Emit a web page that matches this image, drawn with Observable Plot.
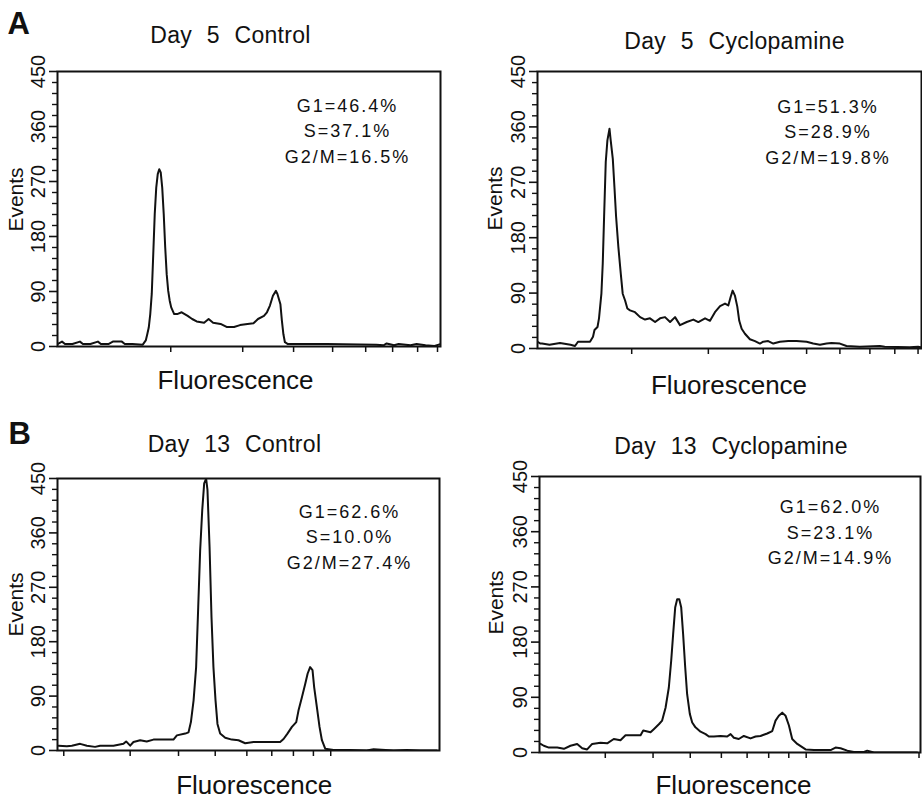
<!DOCTYPE html>
<html>
<head>
<meta charset="utf-8">
<script src="https://cdn.jsdelivr.net/npm/d3@7"></script>
<script src="https://cdn.jsdelivr.net/npm/@observablehq/plot@0.6"></script>
<style>
  body { margin: 0; background: #fff; }
  #fig { position: relative; width: 922px; height: 799px; overflow: hidden; background: #fff; }
  .panel { position: absolute; }
</style>
</head>
<body>
<div id="fig"></div>
<script>
// ---------- data ([channel, events]) ----------
const day5Control = [
  [0,4],[3,8],[5,4],[10,4],[15,8],[17,4],[22,4],[27,8],[29,4],[34,4],[37,8],[43,8],[45,4],[50,4],
  [57,3],[59,10],[60,20],[61,31],[62,53],[63,86],[64,151],[65,217],[66,260],[67,282],[68,290],[69,285],
  [70,260],[71,217],[72,162],[73,118],[74,91],[75,75],[76,64],[78,53],[80,53],[83,56],[87,50],[90,45],
  [93,41],[98,39],[101,45],[104,39],[109,37],[113,32],[118,32],[122,35],[127,37],[131,38],[134,45],
  [138,50],[140,56],[142,67],[144,83],[146,91],[147,86],[149,69],[150,42],[151,20],[152,7],[154,4],
  [180,4],[213,3],[218,2],[220,5],[225,2],[228,4],[236,2],[240,4],[246,2],[252,1],[256,4]
];
const day5Cyclopamine = [
  [0,11],[2,8],[3,8],[8,6],[15,9],[22,6],[25,4],[27,11],[35,11],[37,19],[38,30],[40,35],[41,49],
  [42.6,89],[43.5,138],[44.4,214],[45.5,303],[46.6,338],[48,357],[48.8,338],[50.2,308],[51.3,262],
  [52.4,214],[53.9,165],[55.5,122],[56.8,89],[58.4,78],[59.9,65],[61.7,62],[65,59],[68.4,51],[71.7,47],
  [75,49],[78.4,43],[81.7,49],[85,51],[88.4,43],[91.7,51],[95,38],[99.5,43],[103.9,47],[107.2,43],
  [111.7,49],[115,45],[118.3,59],[121.7,69],[125,73],[127.2,70],[128.8,84],[130.1,94],[131.6,86],
  [133.2,68],[134.5,45],[136.1,32],[138.3,24],[141.6,15],[145,12],[148.3,8],[150.5,11],[153.8,12],
  [157.2,8],[161.6,11],[167.2,12],[172.7,12],[179.4,11],[183.8,8],[188.3,6],[192.7,8],[196,9],
  [201.6,8],[206,4],[214.9,3],[228.2,4],[231.5,3],[248.2,2],[253.7,3],[256,2]
];
const day13Control = [
  [0.7,8],[6.3,7],[9.6,8],[15.2,11],[19.7,8],[25.2,6],[28.6,8],[37.5,8],[44.2,11],[46,15],[48.7,8],
  [50.9,14],[55.4,17],[59.8,15],[64.3,18],[71,18],[77.7,18],[80,25],[85.6,28],[87.8,30],[89.4,47],
  [91.2,83],[92.9,138],[94.3,237],[95.6,331],[97,398],[98.3,442],[99.6,450],[100.5,431],[101.9,337],
  [103.2,221],[104.5,138],[105.9,83],[107.2,44],[109,28],[112.4,21],[116.8,18],[121.3,17],[125.8,12],
  [131.4,14],[140.3,14],[149.2,14],[151.5,19],[154.1,28],[157.1,39],[160,47],[161.5,66],[163.8,88],
  [166,110],[167.6,127],[169.3,138],[170.9,133],[172,105],[173.8,72],[175.6,39],[177.2,17],[179.4,3],
  [185,1],[196.1,1],[207.3,0],[211.8,2],[225.2,0],[234.1,1],[243.1,0],[254.2,0]
];
const day13Cyclopamine = [
  [0.7,14],[2.9,11],[6.3,8],[11.9,8],[16.4,6],[20.8,11],[25.3,14],[28.7,7],[32,5],[35.4,14],[41,16],
  [45.5,15],[49.9,22],[54.4,20],[57.8,28],[63.4,28],[67.9,28],[69.7,36],[74.6,33],[76.8,38],[80.2,46],
  [82.4,52],[84.7,73],[86.9,106],[88.5,150],[89.8,193],[91.2,237],[92.5,250],[93.9,250],[95.2,237],
  [96.5,193],[97.9,139],[99.2,95],[101,63],[102.6,49],[104.8,41],[108.2,34],[111.6,30],[113.8,26],
  [117.2,26],[121.6,27],[126.1,26],[128.4,30],[130.6,24],[133.9,22],[137.3,27],[141.8,23],[145.2,26],
  [148.5,27],[153,31],[156.4,35],[158.6,52],[160.8,60],[163.1,65],[165.3,60],[167.6,44],[169.8,22],
  [173.2,14],[178.8,5],[184.4,4],[191.1,4],[195.6,4],[198.9,8],[202.3,7],[206.8,3],[211.2,1],[218,1],
  [220.2,3],[224.7,0],[238.1,0],[244.8,0],[253.8,0]
];

const panelTitles = ["Day 5 Control", "Day 5 Cyclopamine", "Day 13 Control", "Day 13 Cyclopamine"];
const panelLetters = ["A", null, "B", null];
const statsDay5Control = ["G1=46.4%", "S=37.1%", "G2/M=16.5%"];
const statsDay5Cyclopamine = ["G1=51.3%", "S=28.9%", "G2/M=19.8%"];
const statsDay13Control = ["G1=62.6%", "S=10.0%", "G2/M=27.4%"];
const statsDay13Cyclopamine = ["G1=62.0%", "S=23.1%", "G2/M=14.9%"];

const yMajorTicks = [0, 90, 180, 270, 360, 450];
const yMinorTicks = [18, 36, 54, 72, 108, 126, 144, 162, 198, 216, 234, 252, 288, 306, 324, 342, 378, 396, 414, 432];
const xTicksA = [75.7, 123.8, 157.8, 183.9, 206, 224, 240.7, 254];
const xTicksB = [62.8, 113.9, 150.5, 179.4, 201.6, 221.6, 238.2, 253.7];
const xTicksC = [4.2, 48.7, 81.1, 105.7, 126.9, 143.6, 158.1, 171.5, 183.1];
const xTicksD = [44.2, 76.3, 101.3, 122.2, 139.5, 154, 167.5, 179.2, 255];
const xLabel = "Fluorescence";
const yLabel = "Events";

// ---------- layout ----------
const FONT = '"Liberation Sans", Arial, Helvetica, sans-serif';
const NARROW = '"Liberation Sans Narrow", "Arial Narrow", "Liberation Sans", Arial, sans-serif';

const panels = [
  { data: day5Control, stats: statsDay5Control, xTicks: xTicksA, title: panelTitles[0], letter: panelLetters[0],
    left: 0, top: 0, width: 461, height: 400, m: {t: 71, r: 21, b: 54, l: 57},
    tDx: -18.5, tDy: -29, sDx: 290, sDy: 22, eDx: -34, eDy: -9.5, fDx: -13.5, fDy: 42, lDx: -50, lDy: -38 },
  { data: day5Cyclopamine, stats: statsDay5Cyclopamine, xTicks: xTicksB, title: panelTitles[1], letter: panelLetters[1],
    left: 461, top: 0, width: 461, height: 400, m: {t: 71, r: 1, b: 52, l: 76},
    tDx: 5, tDy: -23, sDx: 290.5, sDy: 23, eDx: -35, eDy: -11.5, fDx: -0.5, fDy: 45 },
  { data: day13Control, stats: statsDay13Control, xTicks: xTicksC, title: panelTitles[2], letter: panelLetters[2],
    left: 0, top: 400, width: 461, height: 399, m: {t: 78, r: 22, b: 49, l: 57},
    tDx: -14, tDy: -26.3, sDx: 292, sDy: 21, eDx: -34, eDy: -10, fDx: 5.7, fDy: 43, lDx: -49, lDy: -35 },
  { data: day13Cyclopamine, stats: statsDay13Cyclopamine, xTicks: xTicksD, title: panelTitles[3], letter: panelLetters[3],
    left: 461, top: 400, width: 461, height: 399, m: {t: 76, r: 2, b: 47, l: 78},
    tDx: 1, tDy: -23, sDx: 291, sDy: 18.5, eDx: -36, eDy: -12, fDx: 3.5, fDy: 41 }
];

const fig = document.getElementById("fig");

for (const p of panels) {
  const svg = Plot.plot({
    width: p.width,
    height: p.height,
    marginTop: p.m.t, marginRight: p.m.r, marginBottom: p.m.b, marginLeft: p.m.l,
    style: {fontFamily: FONT, fontSize: "17px", color: "#111", background: "white", overflow: "visible"},
    x: {domain: [0, 256]},
    y: {domain: [0, 450]},
    marks: [
      Plot.axisY({ticks: yMinorTicks, tickSize: 5, tickFormat: () => "", label: null, strokeWidth: 1.4}),
      Plot.axisY({ticks: yMajorTicks, tickSize: 8, tickRotate: -90, tickPadding: 5, label: null,
                  strokeWidth: 1.6, fontFamily: NARROW, fontSize: 20}),
      Plot.axisX({ticks: p.xTicks, tickSize: 6, tickFormat: () => "", label: null, strokeWidth: 1.5}),
      Plot.line(p.data, {x: d => d[0], y: d => d[1], stroke: "#111", strokeWidth: 2, clip: true}),
      Plot.frame({stroke: "#111", strokeWidth: 2}),
      Plot.text([p.title], {frameAnchor: "top", textAnchor: "middle", lineAnchor: "bottom", dx: p.tDx, dy: p.tDy,
                            fontSize: 23, fill: "#111"}),
      Plot.text([p.stats.join("\n")], {frameAnchor: "top-left", textAnchor: "middle", lineAnchor: "top",
                            lineHeight: 1.42, dx: p.sDx, dy: p.sDy, fontSize: 18, fill: "#111"}),
      Plot.text([yLabel], {frameAnchor: "left", textAnchor: "middle", rotate: -90, lineAnchor: "bottom",
                            dx: p.eDx - 1, dy: p.eDy, fontSize: 21, fill: "#111"}),
      Plot.text([xLabel], {frameAnchor: "bottom", textAnchor: "middle", lineAnchor: "bottom", dx: p.fDx, dy: p.fDy,
                            fontSize: 26, fill: "#111"}),
      p.letter ? Plot.text([p.letter], {frameAnchor: "top-left", textAnchor: "start", lineAnchor: "bottom",
                            dx: p.lDx, dy: p.lDy, fontSize: 31, fontWeight: "bold", fill: "#111"}) : null
    ]
  });
  // letter / word spacing of the printed labels
  d3.select(svg).selectAll("text").each(function() {
    const t = this.textContent;
    if (t === p.title) {
      this.style.letterSpacing = "0.3px";
      this.style.wordSpacing = "8px";
    } else if (t.startsWith("G1=")) {
      this.style.letterSpacing = "2px";
    }
  });
  const div = document.createElement("div");
  div.className = "panel";
  div.style.left = p.left + "px";
  div.style.top = p.top + "px";
  div.appendChild(svg);
  fig.appendChild(div);
}
</script>
</body>
</html>
